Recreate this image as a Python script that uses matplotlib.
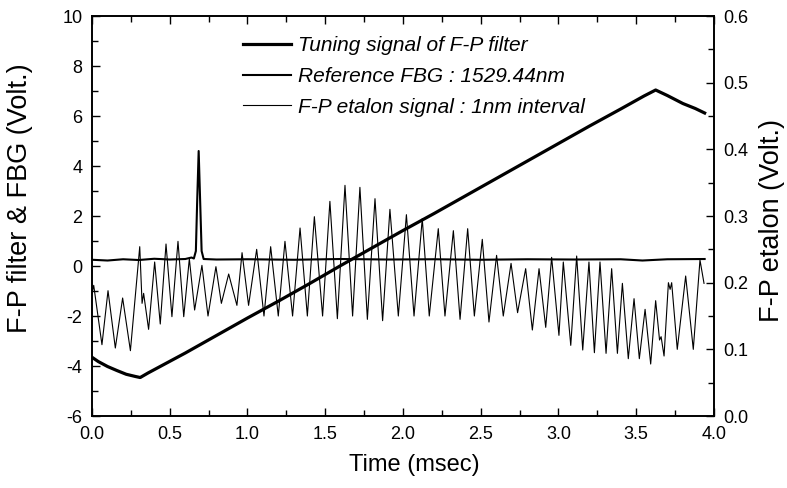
import matplotlib
matplotlib.use("Agg")
import matplotlib.pyplot as plt
from matplotlib.ticker import MultipleLocator

plt.rcParams['font.family'] = ['Liberation Sans', 'DejaVu Sans']
plt.rcParams['axes.unicode_minus'] = False

# tuning signal of F-P filter (left axis, V)
tune_t = [0.0, 0.04, 0.10, 0.16, 0.22, 0.28, 0.31, 0.36, 0.45, 0.60, 0.80, 1.00, 1.20,
          1.40, 1.60, 1.80, 2.00, 2.20, 2.40, 2.60, 2.80, 3.00, 3.20, 3.40, 3.55, 3.625,
          3.70, 3.80, 3.88, 3.94]
tune_v = [-3.65, -3.82, -4.02, -4.18, -4.33, -4.42, -4.46, -4.28, -3.98, -3.48, -2.78,
          -2.08, -1.40, -0.70, 0.02, 0.72, 1.42, 2.10, 2.80, 3.50, 4.20, 4.90, 5.60, 6.28,
          6.80, 7.04, 6.82, 6.50, 6.30, 6.12]

# reference FBG (left axis, V)
fbg_t = [0.0, 0.10, 0.20, 0.30, 0.40, 0.50, 0.60, 0.64, 0.655, 0.668, 0.676, 0.686,
         0.696, 0.705, 0.718, 0.80, 1.00, 1.30, 1.60, 1.90, 2.20, 2.50, 2.80, 3.10,
         3.40, 3.54, 3.70, 3.94]
fbg_v = [0.25, 0.22, 0.27, 0.24, 0.29, 0.26, 0.28, 0.34, 0.30, 0.60, 2.50, 4.60,
         2.50, 0.60, 0.28, 0.26, 0.27, 0.25, 0.28, 0.26, 0.27, 0.25, 0.27, 0.26,
         0.27, 0.22, 0.27, 0.28]

# F-P etalon signal (right axis, V), read peak by peak
et_t = [0.000, 0.011, 0.064, 0.103, 0.150, 0.197, 0.247, 0.307, 0.322, 0.332, 0.364,
        0.403, 0.439, 0.476, 0.514, 0.553, 0.590, 0.626, 0.660, 0.707, 0.746, 0.797,
        0.832, 0.879, 0.932, 0.965, 1.007, 1.059, 1.106, 1.149, 1.198, 1.241, 1.290,
        1.338, 1.385, 1.430, 1.483, 1.530, 1.578, 1.627, 1.676, 1.723, 1.771, 1.820,
        1.869, 1.916, 1.970, 2.022, 2.071, 2.124, 2.169, 2.227, 2.270, 2.324, 2.367,
        2.416, 2.459, 2.510, 2.553, 2.602, 2.645, 2.695, 2.737, 2.789, 2.832, 2.875,
        2.918, 2.956, 3.003, 3.031, 3.079, 3.117, 3.156, 3.196, 3.231, 3.267, 3.306,
        3.342, 3.379, 3.411, 3.449, 3.486, 3.520, 3.557, 3.593, 3.625, 3.650, 3.660,
        3.679, 3.707, 3.718, 3.728, 3.764, 3.818, 3.867, 3.910, 3.936]
et_v = [0.184, 0.196, 0.107, 0.188, 0.102, 0.177, 0.098, 0.254, 0.169, 0.184, 0.130,
        0.231, 0.138, 0.258, 0.149, 0.262, 0.149, 0.236, 0.159, 0.226, 0.150, 0.224,
        0.169, 0.213, 0.166, 0.245, 0.166, 0.250, 0.150, 0.254, 0.150, 0.262, 0.150,
        0.282, 0.150, 0.299, 0.150, 0.322, 0.146, 0.346, 0.150, 0.343, 0.145, 0.326,
        0.143, 0.310, 0.150, 0.302, 0.150, 0.296, 0.150, 0.281, 0.150, 0.278, 0.145,
        0.281, 0.150, 0.265, 0.141, 0.241, 0.150, 0.229, 0.155, 0.221, 0.129, 0.221,
        0.133, 0.238, 0.121, 0.231, 0.106, 0.240, 0.099, 0.231, 0.095, 0.231, 0.094,
        0.221, 0.094, 0.199, 0.086, 0.176, 0.086, 0.160, 0.078, 0.173, 0.114, 0.119,
        0.090, 0.200, 0.190, 0.200, 0.100, 0.210, 0.100, 0.234, 0.199]

labels = ["Tuning signal of F-P filter", "Reference FBG : 1529.44nm",
          "F-P etalon signal : 1nm interval"]

fig = plt.figure(figsize=(7.87, 4.88), dpi=100)
ax = fig.add_axes([0.1169, 0.1475, 0.7903, 0.8197])
ax2 = ax.twinx()

l1, = ax.plot(tune_t, tune_v, color='black', lw=2.3)
l2, = ax.plot(fbg_t, fbg_v, color='black', lw=1.5)
l3, = ax2.plot(et_t, et_v, color='black', lw=0.8)

ax.set_xlim(0, 4.0)
ax.set_ylim(-6, 10)
ax2.set_ylim(0.0, 0.6)

ax.xaxis.set_major_locator(MultipleLocator(0.5))
ax.xaxis.set_minor_locator(MultipleLocator(0.25))
ax.yaxis.set_major_locator(MultipleLocator(2))
ax.yaxis.set_minor_locator(MultipleLocator(1))
ax2.yaxis.set_major_locator(MultipleLocator(0.1))
ax2.yaxis.set_minor_locator(MultipleLocator(0.05))
ax.xaxis.set_major_formatter(plt.FormatStrFormatter('%.1f'))
ax2.yaxis.set_major_formatter(plt.FormatStrFormatter('%.1f'))

ax.tick_params(which='both', direction='in', top=True, right=False, labelsize=13,
               width=1.0)
ax.tick_params(axis='y', pad=7)
ax.tick_params(axis='x', pad=7)
ax.tick_params(which='major', length=6)
ax.tick_params(which='minor', length=4)
ax2.tick_params(which='both', direction='in', labelsize=13, width=1.0, pad=7)
ax2.tick_params(which='major', length=6)
ax2.tick_params(which='minor', length=4)
for a in (ax, ax2):
    for s in a.spines.values():
        s.set_linewidth(1.2)

ax.set_xlabel('Time (msec)', fontsize=17)
ax.xaxis.set_label_coords(0.519, -0.095)
ax.set_ylabel('F-P filter & FBG (Volt.)', fontsize=19.5)
ax.yaxis.set_label_coords(-0.095, 0.545)
ax2.set_ylabel('F-P etalon (Volt.)', fontsize=19.5)
ax2.yaxis.set_label_coords(1.073, 0.49)

ax.legend([l1, l2, l3], labels, loc='upper left', bbox_to_anchor=(0.243, 0.95),
          frameon=False, handlelength=2.3, handletextpad=0.35, labelspacing=0.57,
          borderpad=0, borderaxespad=0,
          prop={'style': 'italic', 'size': 15})

fig.savefig('out.png', dpi=100)
